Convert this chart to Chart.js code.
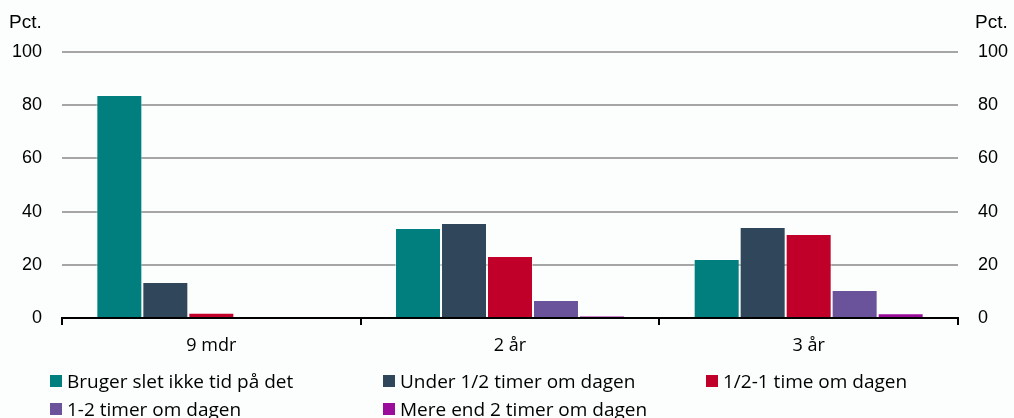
<!DOCTYPE html>
<html>
<head>
<meta charset="utf-8">
<script src="https://cdn.jsdelivr.net/npm/chart.js@4/dist/chart.umd.min.js"></script>
<style>
  html, body { margin: 0; padding: 0; background: #fcfdfd; }
  #wrap { position: relative; width: 1014px; height: 418px; overflow: hidden; }
  #legend { position: absolute; left: 0; top: 0; width: 1014px; height: 418px; pointer-events: none;
            font-family: "Open Sans", sans-serif; font-size: 19px; color: #000; }
  .item { position: absolute; display: flex; align-items: center; white-space: nowrap; height: 20px; }
  .box { width: 12px; height: 12px; margin-right: 5px; }
</style>
</head>
<body>
<div id="wrap">
  <canvas id="chart" width="1014" height="418"></canvas>
  <div id="legend"></div>
</div>
<script>
// Categories and series
const categories = ['9 mdr', '2 år', '3 år'];
const seriesNames = [
  'Bruger slet ikke tid på det',
  'Under 1/2 timer om dagen',
  '1/2-1 time om dagen',
  '1-2 timer om dagen',
  'Mere end 2 timer om dagen'
];
const notAtAll = [83.8, 33.8, 22.2];
const underHalf = [13.5, 35.7, 34.2];
const halfToOne = [2.0, 23.3, 31.6];
const oneToTwo = [0, 6.8, 10.5];
const overTwo = [0, 0.8, 1.8];
const yTicks = [0, 20, 40, 60, 80, 100];

const seriesValues = [notAtAll, underHalf, halfToOne, oneToTwo, overTwo];
const colors = ['#007f7e', '#30475b', '#c00029', '#6a539a', '#9a0d9b'];

// Legend positions (two rows, three columns)
const legendPos = [[50, 371], [383, 371], [706, 371], [50, 399], [383, 399]];
const legendEl = document.getElementById('legend');
seriesNames.forEach((name, i) => {
  const item = document.createElement('div');
  item.className = 'item';
  item.style.left = legendPos[i][0] + 'px';
  item.style.top = legendPos[i][1] + 'px';
  item.innerHTML = '<span class="box" style="background:' + colors[i] + '"></span>' + name;
  legendEl.appendChild(item);
});

// Draw the "Pct." labels over both axes
const pctLabels = {
  id: 'pctLabels',
  afterDraw(chart) {
    const ctx = chart.ctx;
    ctx.save();
    ctx.font = '19px "Liberation Sans", Arial, sans-serif';
    ctx.fillStyle = '#000';
    ctx.textBaseline = 'middle';
    ctx.textAlign = 'left';
    ctx.fillText('Pct.', 9, 23);
    ctx.fillText('Pct.', 975, 23);
    ctx.restore();
  }
};

const tickFont = { family: '"Liberation Sans", Arial, sans-serif', size: 18 };

new Chart(document.getElementById('chart'), {
  type: 'bar',
  data: {
    labels: categories,
    datasets: seriesNames.map((name, i) => ({
      label: name,
      data: seriesValues[i],
      backgroundColor: colors[i],
      borderColor: 'rgba(255,255,255,0.45)',
      borderWidth: 1,
      categoryPercentage: 0.77,
      barPercentage: 1.0,
      yAxisID: 'y'
    }))
  },
  options: {
    responsive: false,
    animation: false,
    layout: { padding: { top: 52, bottom: 54, left: 0, right: 0 } },
    plugins: { legend: { display: false }, tooltip: { enabled: false } },
    scales: {
      x: {
        grid: { drawOnChartArea: false, drawTicks: true, tickLength: 7, color: '#000', lineWidth: 2, offset: true },
        border: { display: true, color: '#000', width: 2 },
        ticks: { font: { family: '"Open Sans", sans-serif', size: 18 }, color: '#000', padding: 10 },
        afterFit(scale) { scale.height = 46; }
      },
      y: {
        position: 'left',
        min: 0, max: 100,
        afterBuildTicks(scale) { scale.ticks = yTicks.map(v => ({ value: v })); },
        afterFit(scale) { scale.width = 62; },
        grid: { color: '#a6a6a6', lineWidth: 2, drawTicks: false },
        border: { display: false },
        ticks: { font: tickFont, color: '#000', padding: 20 }
      },
      y2: {
        position: 'right',
        min: 0, max: 100,
        afterBuildTicks(scale) { scale.ticks = yTicks.map(v => ({ value: v })); },
        afterFit(scale) { scale.width = 56; },
        grid: { drawOnChartArea: false, drawTicks: false },
        border: { display: false },
        ticks: { font: tickFont, color: '#000', padding: 20 }
      }
    }
  },
  plugins: [pctLabels]
});
</script>
</body>
</html>
